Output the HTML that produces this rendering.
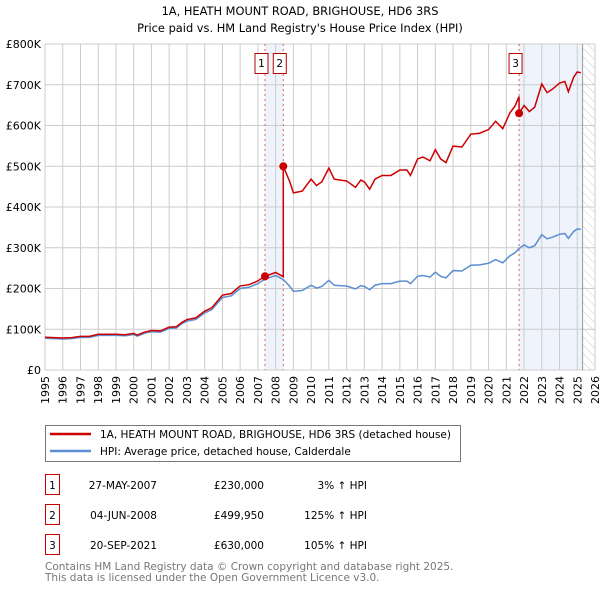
<!DOCTYPE html>
<html><head><meta charset="utf-8"><style>
body{margin:0;background:#fff;width:600px;height:590px;overflow:hidden;font-family:"DejaVu Sans","Liberation Sans",sans-serif;}
svg text{font-family:"DejaVu Sans","Liberation Sans",sans-serif;}
</style></head><body>
<svg id="c" width="600" height="590">
<defs><pattern id="hatch" patternUnits="userSpaceOnUse" width="6" height="6" patternTransform="rotate(-45)"><line x1="0" y1="0" x2="0" y2="6" stroke="#ccc" stroke-width="1"/></pattern></defs>
<text x="300" y="15" text-anchor="middle" font-size="11.4" fill="#000">1A, HEATH MOUNT ROAD, BRIGHOUSE, HD6 3RS</text>
<text x="300" y="32" text-anchor="middle" font-size="11.4" fill="#000">Price paid vs. HM Land Registry's House Price Index (HPI)</text>
<g id="plot"></g>
<g>
<rect x="45.5" y="425.5" width="415" height="36" fill="#fff" stroke="#777"/>
<line x1="50" y1="434" x2="91" y2="434" stroke="#cc0000" stroke-width="2.5"/>
<text x="100" y="438" font-size="10.5">1A, HEATH MOUNT ROAD, BRIGHOUSE, HD6 3RS (detached house)</text>
<line x1="50" y1="451" x2="91" y2="451" stroke="#5b8dd0" stroke-width="2.5"/>
<text x="100" y="455" font-size="10.5">HPI: Average price, detached house, Calderdale</text>
</g>
<g id="table" font-size="10.5"></g>
<text x="45" y="570" font-size="10.5" fill="#777">Contains HM Land Registry data © Crown copyright and database right 2025.</text>
<text x="45" y="581" font-size="10.5" fill="#777">This data is licensed under the Open Government Licence v3.0.</text>
</svg>
<script>
const hpiYears=[1995,1995.5,1996,1996.5,1997,1997.5,1998,1998.5,1999,1999.5,2000,2000.2,2000.6,2001,2001.5,2002,2002.4,2002.7,2003,2003.5,2004,2004.4,2005,2005.5,2006,2006.5,2007,2007.4,2008,2008.43,2008.8,2009,2009.5,2010,2010.3,2010.6,2011,2011.3,2011.6,2012,2012.5,2012.8,2013,2013.3,2013.6,2014,2014.5,2015,2015.4,2015.6,2016,2016.3,2016.7,2017,2017.3,2017.6,2018,2018.5,2019,2019.5,2020,2020.4,2020.8,2021.2,2021.5,2021.72,2022,2022.3,2022.6,2023,2023.3,2023.6,2024,2024.3,2024.5,2024.8,2025,2025.2];
const hpiValues=[78,77,76,77,80,80,85,85,85,84,87,83,90,94,93,102,103,113,120,124,140,148,178,182,200,203,212,223,232,222,205,193,195,208,201,205,220,208,207,206,199,207,205,197,208,212,212,218,218,212,230,232,228,240,230,226,244,243,257,258,262,271,263,280,288,298,307,300,305,332,322,326,333,335,323,340,346,345];
const sales=[{n:"1",d:"27-MAY-2007",t:2007.4,p:230000,s:"£230,000",h:"3% \u2191 HPI"},{n:"2",d:"04-JUN-2008",t:2008.43,p:499950,s:"£499,950",h:"125% \u2191 HPI"},{n:"3",d:"20-SEP-2021",t:2021.72,p:630000,s:"£630,000",h:"105% \u2191 HPI"}];
const yTicks=[0,100,200,300,400,500,600,700,800];
const yLabels=["£0","£100K","£200K","£300K","£400K","£500K","£600K","£700K","£800K"];
const NS="http://www.w3.org/2000/svg";
const X0=45,X1=595,Y0=370,Y1=44;
const xs=t=>X0+(t-1995)/(2026-1995)*(X1-X0);
const ys=v=>Y0-v/800*(Y0-Y1);
const g=document.getElementById('plot');
function mk(tag,at,par){const e=document.createElementNS(NS,tag);for(const k in at)e.setAttribute(k,at[k]);(par||g).appendChild(e);return e;}
function hpiAt(t){for(let i=1;i<hpiYears.length;i++){if(t<=hpiYears[i]){const a=hpiYears[i-1],b=hpiYears[i];return hpiValues[i-1]+(hpiValues[i]-hpiValues[i-1])*(t-a)/(b-a);}}return hpiValues[hpiValues.length-1];}
let e=mk('rect',{x:xs(sales[0].t),y:Y1,width:xs(sales[1].t)-xs(sales[0].t),height:Y0-Y1,fill:'#eef3fc'});

e=mk('rect',{x:xs(sales[2].t),y:Y1,width:xs(2025.3)-xs(sales[2].t),height:Y0-Y1,fill:'#eef3fc'});

e=mk('rect',{x:xs(2025.3),y:Y1,width:X1-xs(2025.3),height:Y0-Y1,fill:'url(#hatch)'});

for(let y=1995;y<=2026;y++){
 e=mk('line',{x1:xs(y),x2:xs(y),y1:Y1,y2:Y0,stroke:'#ccc','stroke-width':1});
 
 e=mk('text',{x:0,y:0,transform:`translate(${xs(y)+4},${Y0+6}) rotate(-90)`,'text-anchor':'end','font-size':11});
 e.textContent=y;
 
}
yTicks.forEach((v,i)=>{
 e=mk('line',{x1:X0,x2:X1,y1:ys(v),y2:ys(v),stroke:'#ccc','stroke-width':1});
 
 e=mk('text',{x:X0-4,y:ys(v)+4,'text-anchor':'end','font-size':11});
 e.textContent=yLabels[i];
 
});
e=mk('line',{x1:xs(2025.3),x2:xs(2025.3),y1:Y1,y2:Y0,stroke:'#999','stroke-width':1});

sales.forEach(s=>{
 e=mk('line',{x1:xs(s.t),x2:xs(s.t),y1:Y1,y2:Y0,stroke:'#e06060','stroke-width':1,'stroke-dasharray':'2,3'});
 
 const bx=s.n==="1"?xs(s.t)-10:(s.n==="2"?xs(s.t)-10:xs(s.t)-10);
 e=mk('rect',{x:bx,y:53.5,width:13,height:20,fill:'#fff',stroke:'#b00','stroke-width':1});
 
 e=mk('text',{x:bx+6.5,y:67,'text-anchor':'middle','font-size':10.5});
 e.textContent=s.n;
 
});
let pts=hpiYears.map((t,i)=>xs(t)+','+ys(hpiValues[i])).join(' ');
e=mk('polyline',{points:pts,fill:'none',stroke:'#5b8dd0','stroke-width':1.5});

function redAt(t){let ref=null;for(const s of sales){if(t>=s.t)ref=s;}
 if(!ref){return sales[0].p/1000*hpiAt(t)/hpiAt(sales[0].t);}
 return ref.p/1000*hpiAt(t)/hpiAt(ref.t);}
let rpts=[];
let all=hpiYears.slice();sales.forEach(s=>{if(all.indexOf(s.t)<0)all.push(s.t);});all.sort((a,b)=>a-b);
all.forEach(t=>{
 sales.forEach((s,i)=>{if(s.t===t&&i>0){const before=sales[i-1];rpts.push(xs(t)+','+ys(before.p/1000*hpiAt(t)/hpiAt(before.t)));}});
 rpts.push(xs(t)+','+ys(redAt(t)));
});
e=mk('polyline',{points:rpts.join(' '),fill:'none',stroke:'#cc0000','stroke-width':1.5});

sales.forEach(s=>{
 e=mk('circle',{cx:xs(s.t),cy:ys(s.p/1000),r:4,fill:'#cc0000'});
 
});
const tb=document.getElementById('table');
sales.forEach((s,i)=>{
 const y=485+i*30;
 e=mk('rect',{x:45.5,y:y-10.5,width:14,height:20,fill:'#fff',stroke:'#cc0000'},tb);
 
 e=mk('text',{x:52.5,y:y+4,'text-anchor':'middle'},tb);e.textContent=s.n;
 
 e=mk('text',{x:157,y:y+4,'text-anchor':'end'},tb);e.textContent=s.d;
 
 e=mk('text',{x:264,y:y+4,'text-anchor':'end'},tb);e.textContent=s.s;
 
 e=mk('text',{x:367,y:y+4,'text-anchor':'end'},tb);e.textContent=s.h;
 
});
</script>
</body></html>
